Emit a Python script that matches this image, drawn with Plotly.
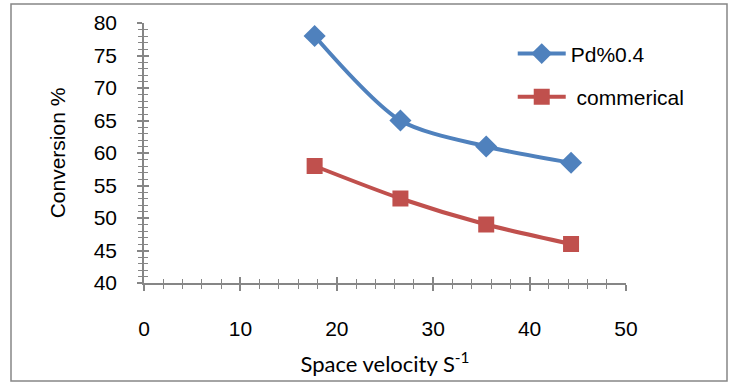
import plotly.graph_objects as go

space_velocity = [17.7, 26.6, 35.5, 44.3]
pd_conv = [78, 65, 61, 58.5]
commercial_conv = [58, 53, 49, 46]
series_names = ["Pd%0.4", "\u00a0commerical"]

BLUE = "#4F81BD"
RED = "#C0504D"
AX = "#868686"

fig = go.Figure()
fig.add_trace(go.Scatter(
    x=space_velocity, y=pd_conv, name=series_names[0], mode="lines+markers",
    line=dict(color=BLUE, width=4, shape="spline", smoothing=0.8),
    marker=dict(symbol="diamond", size=17, color=BLUE), legendgroup="a"))
fig.add_trace(go.Scatter(
    x=space_velocity, y=commercial_conv, name=series_names[1], mode="lines+markers",
    line=dict(color=RED, width=4, shape="spline", smoothing=0.8),
    marker=dict(symbol="square", size=16, color=RED), legendgroup="b"))
# invisible trace for overlay axes (cross ticks)
fig.add_trace(go.Scatter(x=[None], y=[None], xaxis="x2", yaxis="y2",
                         showlegend=False, hoverinfo="skip"))

tickfont = dict(family="Liberation Sans, Arial", size=21, color="#000")
common_x = dict(range=[0, 50], dtick=10, showgrid=False, zeroline=False,
                showline=True, linecolor=AX, linewidth=1.5, tickcolor=AX, tickwidth=1.5,
                minor=dict(dtick=2, ticklen=4, tickcolor=AX, tickwidth=1.2, ticks="outside"))
common_y = dict(range=[40, 80], dtick=5, showgrid=False, zeroline=False,
                showline=True, linecolor=AX, linewidth=1.5, tickcolor=AX, tickwidth=1.5,
                minor=dict(dtick=1, ticklen=4, tickcolor=AX, tickwidth=1.2, ticks="outside"))

fig.update_layout(
    width=731, height=385,
    margin=dict(l=144, r=105, t=23, b=102),
    paper_bgcolor="white", plot_bgcolor="white",
    xaxis=dict(**common_x, ticks="outside", ticklen=6, tickfont=tickfont, ticklabelstandoff=20,
               title=dict(text="Space velocity S<sup>-1</sup>", standoff=18,
                          font=dict(family="Lato, Liberation Sans", size=22, color="#000"))),
    yaxis=dict(**common_y, ticks="outside", ticklen=5, tickfont=tickfont, ticklabelstandoff=16,
               title=dict(text="Conversion %", standoff=22,
                          font=dict(family="Liberation Sans, Arial", size=21, color="#000"))),
    xaxis2=dict(range=[0, 50], dtick=10, overlaying="x", anchor="y2", showgrid=False,
                zeroline=False, showline=False, showticklabels=False, ticks="inside",
                ticklen=6, tickcolor=AX, tickwidth=1.5,
                minor=dict(dtick=2, ticklen=4, tickcolor=AX, tickwidth=1.2, ticks="inside")),
    yaxis2=dict(range=[40, 80], dtick=5, overlaying="y", anchor="x2", showgrid=False,
                zeroline=False, showline=False, showticklabels=False, ticks="inside",
                ticklen=5, tickcolor=AX, tickwidth=1.5,
                minor=dict(dtick=1, ticklen=4, tickcolor=AX, tickwidth=1.2, ticks="inside")),
    legend=dict(x=0.765, y=0.96, xanchor="left", yanchor="top", bgcolor="rgba(0,0,0,0)",
                font=dict(family="Liberation Sans, Arial", size=21, color="#000"),
                tracegroupgap=13, itemwidth=48),
    showlegend=True,
    shapes=[dict(type="rect", xref="paper", yref="paper",
                 x0=(11 - 144) / 482, x1=(727 - 144) / 482,
                 y0=(283 - 381) / 260, y1=(283 - 4) / 260,
                 line=dict(color=AX, width=1.5), fillcolor="rgba(0,0,0,0)", layer="below")],
)

fig.write_html("out.html")
